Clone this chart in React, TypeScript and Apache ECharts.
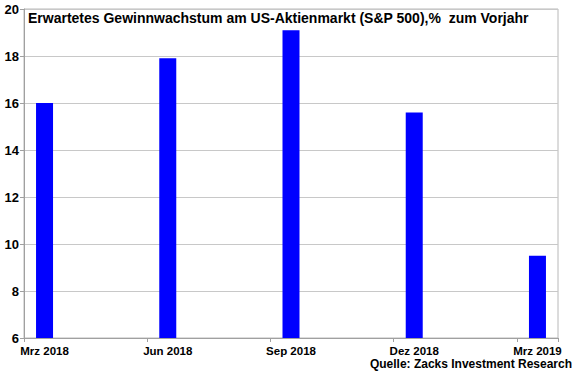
import React, { useEffect, useRef } from "react";
import * as echarts from "echarts";

const months = [
  "Mrz 2018", "Apr 2018", "Mai 2018", "Jun 2018", "Jul 2018", "Aug 2018",
  "Sep 2018", "Okt 2018", "Nov 2018", "Dez 2018", "Jan 2019", "Feb 2019", "Mrz 2019",
];
const growth: (number | null)[] = [16.0, null, null, 17.9, null, null, 19.1, null, null, 15.6, null, null, 9.5];
const titleText = "Erwartetes Gewinnwachstum am US-Aktienmarkt (S&P 500),%  zum Vorjahr";
const sourceText = "Quelle: Zacks Investment Research";

export default function App() {
  const ref = useRef<HTMLDivElement>(null);
  useEffect(() => {
    document.body.style.margin = "0";
    const chart = echarts.init(ref.current!, null, { renderer: "svg" });
    const font = "'Liberation Sans', Arial, sans-serif";
    chart.setOption({
      animation: false,
      backgroundColor: "#ffffff",
      grid: { left: 24, right: 22, top: 9, bottom: 37, show: true, borderColor: "#b8b8b8", borderWidth: 1 },
      graphic: [
        {
          type: "text", left: 28, top: 11,
          style: { text: titleText, fontFamily: font, fontWeight: "bold", fontSize: 14, fill: "#000" },
        },
        {
          type: "text", right: 8, top: 358,
          style: { text: sourceText, fontFamily: font, fontWeight: "bold", fontSize: 12, fill: "#000" },
        },
      ],
      xAxis: {
        type: "category",
        data: months,
        boundaryGap: true,
        axisLine: { lineStyle: { color: "#a0a0a0" } },
        axisTick: { show: true, interval: 2, length: 4, lineStyle: { color: "#a0a0a0" } },
        axisLabel: { interval: 2, color: "#000", fontFamily: font, fontWeight: "bold", fontSize: 11.5, margin: 7 },
        splitLine: { show: false },
      },
      yAxis: {
        type: "value",
        min: 6, max: 20, interval: 2,
        axisLine: { show: true, lineStyle: { color: "#a0a0a0" } },
        axisTick: { show: true, length: 4, lineStyle: { color: "#a0a0a0" } },
        axisLabel: { color: "#000", fontFamily: font, fontWeight: "bold", fontSize: 13, margin: 5 },
        splitLine: { show: true, lineStyle: { color: "#c8c8c8" } },
      },
      series: [
        {
          type: "bar",
          data: growth,
          barWidth: 17,
          itemStyle: { color: "#0000ff" },
        },
      ],
    });
    return () => chart.dispose();
  }, []);
  return <div ref={ref} style={{ width: 580, height: 375 }} />;
}
